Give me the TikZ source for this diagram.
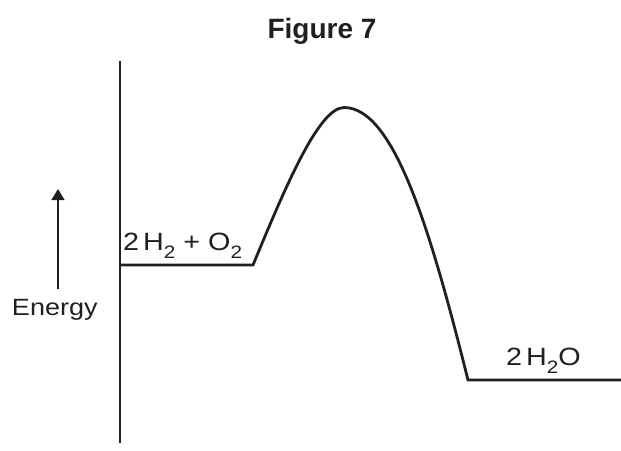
\documentclass[tikz,border=0pt]{standalone}
\usepackage{fontspec}
\setmainfont{Liberation Sans}
\newfontfamily\widefont[FakeStretch=1.15]{Liberation Sans}
\usetikzlibrary{arrows.meta}
\definecolor{ink}{RGB}{35,31,32}
\newcommand\chsub[1]{\raisebox{-8pt}{\fontsize{18}{18}\selectfont #1}}
\tikzset{
  label/.style={inner sep=0pt, outer sep=0pt, text=ink, font=\widefont\fontsize{25}{30}\selectfont},
  level/.style={line width=2.8pt, draw=ink, line join=miter},
  axisline/.style={line width=1.7pt, draw=ink},
  energyarrow/.style={line width=1.3pt, draw=ink, -{Triangle[length=11pt,width=13pt]}}
}
\begin{document}
\begin{tikzpicture}[x=1pt,y=-1pt]
\useasboundingbox (0,0) rectangle (621,450);
% title
\node[inner sep=0pt, anchor=base, text=ink, font=\bfseries\fontsize{28}{32}\selectfont] (title) at (322,38) {Figure 7};
% axis
\coordinate (axtop) at (120,61);
\coordinate (axbot) at (120,443);
\draw[axisline] (axtop) -- (axbot);
% energy arrow
\coordinate (arrtail) at (58,289);
\coordinate (arrtip) at (58,189);
\draw[energyarrow] (arrtail) -- (arrtip);
\node[label, anchor=base west, font=\widefont\fontsize{23.5}{28}\selectfont] (energy) at (12,315) {Energy};
% profile
\coordinate (rstart) at (120,265);
\coordinate (rend) at (253,265);
\coordinate (peak) at (344,107.5);
\coordinate (pstart) at (468,380);
\coordinate (pend) at (621,380);
\draw[level] (rstart) -- (rend)
  .. controls (283,193) and (318,107.5) .. (peak)
  .. controls (394,107.5) and (430.5,230) .. (pstart) -- (pend);
% labels
\node[label, anchor=base west] (react) at (123,250) {2\,H\chsub{2} + O\chsub{2}};
\node[label, anchor=base west] (prod) at (506,365) {2\,H\chsub{2}O};
\end{tikzpicture}
\end{document}
